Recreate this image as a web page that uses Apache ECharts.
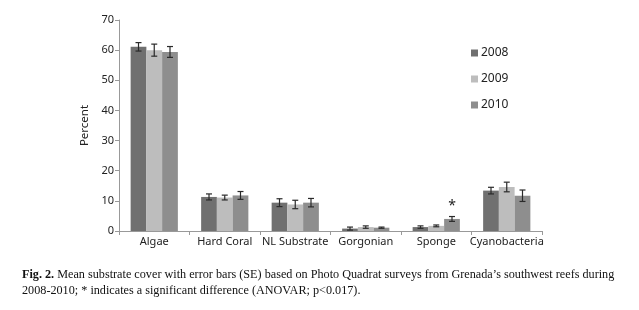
<!DOCTYPE html>
<html><head><meta charset="utf-8">
<script src="https://cdn.jsdelivr.net/npm/echarts@6/dist/echarts.min.js"></script>
<style>html,body{margin:0;padding:0;background:#fff}#c{width:639px;height:310px}</style>
</head><body><div id="c"></div>
<script>
const categories = ['Algae','Hard Coral','NL Substrate','Gorgonian','Sponge','Cyanobacteria'];
const years = ['2008','2009','2010'];
const mean2008 = [61.1, 11.3, 9.4, 0.8, 1.3, 13.4];
const mean2009 = [60.0, 11.1, 8.8, 1.3, 1.7, 14.6];
const mean2010 = [59.4, 11.8, 9.4, 1.1, 4.0, 11.7];
const se2008 = [1.4, 1.0, 1.3, 0.5, 0.4, 1.1];
const se2009 = [2.0, 0.8, 1.4, 0.4, 0.3, 1.6];
const se2010 = [1.8, 1.3, 1.4, 0.2, 0.8, 1.9];
const sig2010 = ['', '', '', '', '*', ''];
const yTicks = [0,10,20,30,40,50,60,70];

const means = [mean2008, mean2009, mean2010];
const ses = [se2008, se2009, se2010];
const sigs = [[], [], sig2010];
const colors = ['#707070', '#bdbdbd', '#8e8e8e'];
const catGap = 0.33;

const chart = echarts.init(document.getElementById('c'), null, {renderer:'canvas'});
const series = [];
years.forEach((y, i) => {
  series.push({
    name: y, type: 'bar', data: means[i],
    itemStyle: {color: colors[i]},
    barGap: '0%', barCategoryGap: (catGap*100)+'%',
    emphasis: {disabled: true}
  });
});
years.forEach((y, i) => {
  series.push({
    type: 'custom', name: y + ' SE', z: 10, silent: true,
    data: means[i].map((m, k) => [k, m, ses[i][k], (sigs[i][k] || '')]),
    renderItem: function (params, api) {
      const k = api.value(0), m = api.value(1), s = api.value(2);
      const band = api.size([1, 0])[0];
      const bw = band * (1 - catGap) / 3;
      const base = api.coord([k, m]);
      const x = base[0] + (i - 1) * bw;
      const top = api.coord([k, m + s])[1];
      const bot = api.coord([k, m - s])[1];
      const cap = 3;
      const st = {stroke: '#2a2a2a', lineWidth: 1.2};
      const children = [
        {type: 'line', shape: {x1: x, y1: top, x2: x, y2: bot}, style: st},
        {type: 'line', shape: {x1: x - cap, y1: top, x2: x + cap, y2: top}, style: st},
        {type: 'line', shape: {x1: x - cap, y1: bot, x2: x + cap, y2: bot}, style: st}
      ];
      const sg = sigs[i][k];
      if (sg) {
        children.push({type: 'text', style: {text: sg, x: x, y: top - 4, align: 'center', verticalAlign: 'bottom', fontSize: 14, fontFamily: 'Noto Sans', fill: '#222'}});
      }
      return {type: 'group', children: children};
    }
  });
});

chart.setOption({
  animation: false,
  grid: {left: 119, right: 97, top: 20, bottom: 79},
  legend: {
    data: years, orient: 'vertical', left: 466, top: 42,
    itemWidth: 7, itemHeight: 7, itemGap: 14, icon: 'rect',
    textStyle: {fontFamily: 'Noto Sans', fontSize: 12, color: '#222', padding: [0,0,0,-2]}
  },
  xAxis: {
    type: 'category', data: categories,
    axisLine: {lineStyle: {color: '#999', width: 1}},
    axisTick: {show: true, length: 4, lineStyle: {color: '#999'}},
    axisLabel: {interval: 0, hideOverlap: false, fontFamily: 'Noto Sans', fontSize: 11, color: '#222', margin: 5}
  },
  yAxis: {
    type: 'value', min: yTicks[0], max: yTicks[yTicks.length-1], interval: 10,
    name: 'Percent', nameLocation: 'middle', nameGap: 28, nameRotate: 90,
    nameTextStyle: {fontFamily: 'Noto Sans', fontSize: 11.5, color: '#222'},
    axisLine: {show: true, lineStyle: {color: '#999', width: 1}},
    axisTick: {show: true, length: 4, lineStyle: {color: '#999'}},
    splitLine: {show: false},
    axisLabel: {fontFamily: 'Noto Sans', fontSize: 11, color: '#222', margin: 5}
  },
  graphic: [
    {type: 'text', left: 22, top: 269, style: {
      text: '{b|Fig. 2.} Mean substrate cover with error bars (SE) based on Photo Quadrat surveys from Grenada\u2019s southwest reefs during',
      rich: {b: {fontWeight: 'bold', fontFamily: 'Liberation Serif', fontSize: 12.2, fill: '#111'}},
      fontFamily: 'Liberation Serif', fontSize: 12.2, fill: '#111'}},
    {type: 'text', left: 22, top: 285, style: {
      text: '2008-2010; * indicates a significant difference (ANOVAR; p<0.017).',
      fontFamily: 'Liberation Serif', fontSize: 12.2, fill: '#111'}}
  ],
  series: series
});
</script></body></html>
